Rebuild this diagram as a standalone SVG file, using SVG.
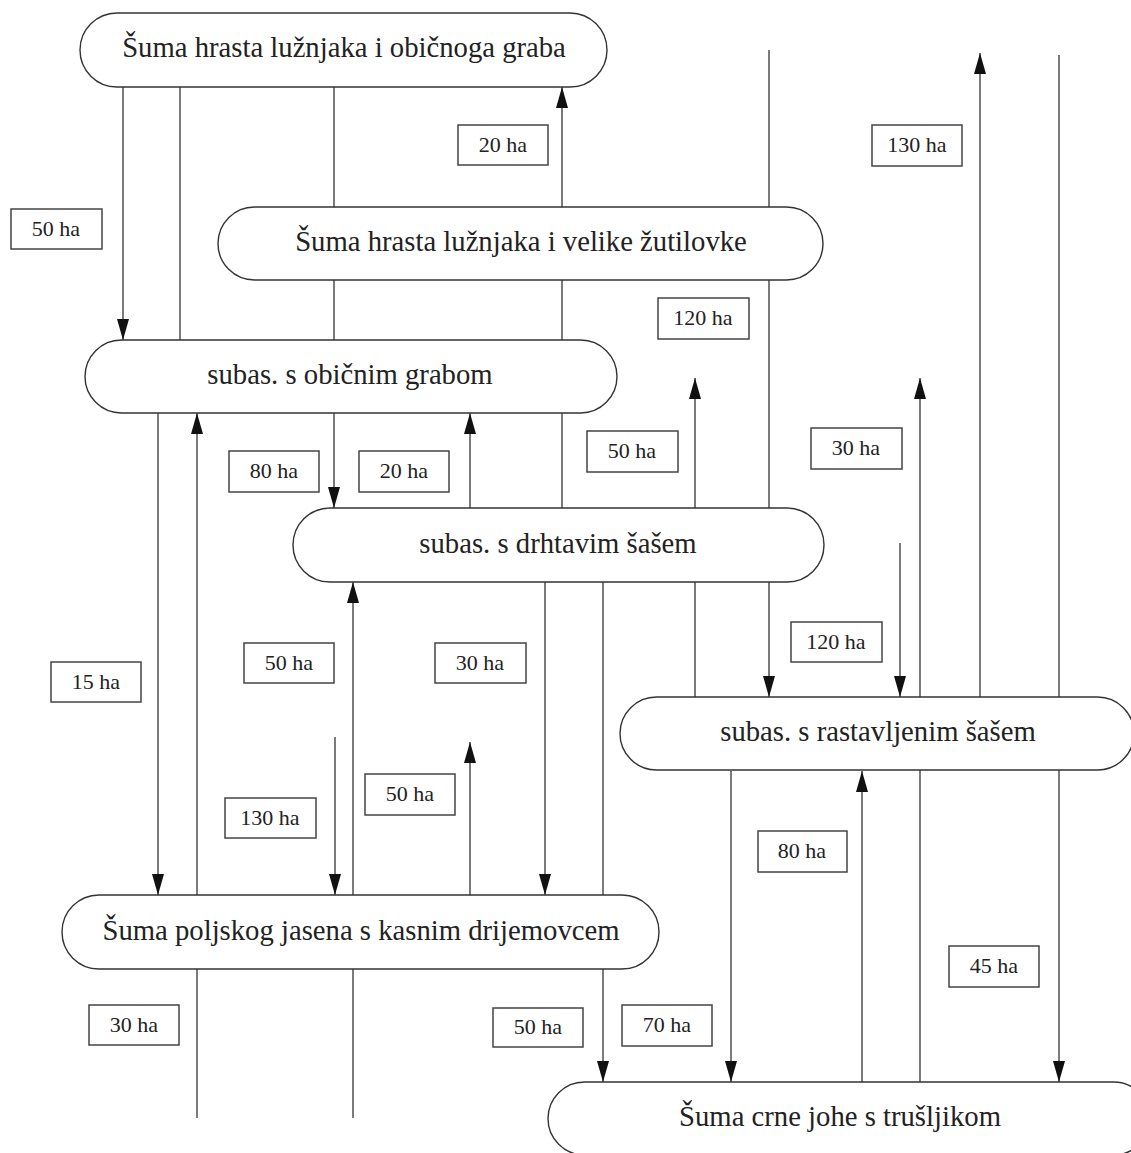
<svg xmlns="http://www.w3.org/2000/svg" width="1131" height="1153" viewBox="0 0 1131 1153">
<defs>
<marker id="ah" viewBox="0 -6.5 21 13" markerWidth="21" markerHeight="13" refX="21" refY="0" markerUnits="userSpaceOnUse" orient="auto">
<path d="M0,-6 L21,0 L0,6 z" fill="#111"/>
</marker>
<style>
.n rect{fill:#fff;stroke:#333;stroke-width:1.4}
.n text{font-family:"Liberation Serif","Times New Roman",serif;font-size:28.7px;fill:#222;text-anchor:middle}
.c line{stroke:#333;stroke-width:1.3;fill:none}
.c line.a{marker-end:url(#ah)}
.l rect{fill:#fff;stroke:#444;stroke-width:1.5}
.l text{font-family:"Liberation Serif","Times New Roman",serif;font-size:22px;fill:#222;text-anchor:middle}
</style>
</defs>
<rect width="1131" height="1153" fill="#fff"/>
<g id="connectors" class="c">
<line class="a" x1="123" y1="87" x2="123" y2="340"/>
<line x1="180" y1="87" x2="180" y2="340"/>
<line class="a" x1="334" y1="87" x2="334" y2="508"/>
<line class="a" x1="562" y1="508" x2="562" y2="87"/>
<line class="a" x1="769" y1="50" x2="769" y2="697"/>
<line class="a" x1="980" y1="697" x2="980" y2="53"/>
<line class="a" x1="1059" y1="55" x2="1059" y2="1082"/>
<line class="a" x1="158" y1="413" x2="158" y2="895"/>
<line class="a" x1="197" y1="1118" x2="197" y2="413"/>
<line class="a" x1="470" y1="508" x2="470" y2="413"/>
<line class="a" x1="695" y1="697" x2="695" y2="378"/>
<line class="a" x1="920" y1="1082" x2="920" y2="378"/>
<line class="a" x1="900" y1="543" x2="900" y2="697"/>
<line class="a" x1="353" y1="1118" x2="353" y2="582"/>
<line class="a" x1="335" y1="737" x2="335" y2="895"/>
<line class="a" x1="470" y1="895" x2="470" y2="742"/>
<line class="a" x1="545" y1="582" x2="545" y2="895"/>
<line class="a" x1="603" y1="582" x2="603" y2="1082"/>
<line class="a" x1="731" y1="771" x2="731" y2="1082"/>
<line class="a" x1="862" y1="1082" x2="862" y2="771"/>
</g>
<g id="node-hrast-grab" class="n"><rect x="80" y="13" width="527" height="74" rx="37"/><text x="344" y="57">Šuma hrasta lužnjaka i običnoga graba</text></g>
<g id="node-hrast-zutilovka" class="n"><rect x="218" y="207" width="605" height="73" rx="36.5"/><text x="521" y="251">Šuma hrasta lužnjaka i velike žutilovke</text></g>
<g id="node-subas-grab" class="n"><rect x="85" y="340" width="532" height="73" rx="36.5"/><text x="350" y="384">subas. s običnim grabom</text></g>
<g id="node-subas-drhtavi" class="n"><rect x="293" y="508" width="531" height="74" rx="37"/><text x="558" y="553">subas. s drhtavim šašem</text></g>
<g id="node-subas-rastavljeni" class="n"><rect x="620" y="697" width="514" height="73" rx="36.5"/><text x="878" y="741">subas. s rastavljenim šašem</text></g>
<g id="node-jasen" class="n"><rect x="62" y="895" width="597" height="74" rx="37"/><text x="361" y="940">Šuma poljskog jasena s kasnim drijemovcem</text></g>
<g id="node-joha" class="n"><rect x="548" y="1082" width="602" height="73" rx="36.5"/><text x="840" y="1126">Šuma crne johe s trušljikom</text></g>
<g id="labels" class="l">
<g><rect x="458" y="125" width="90" height="40"/><text x="503" y="152">20 ha</text></g>
<g><rect x="872" y="125" width="90" height="41"/><text x="917" y="152">130 ha</text></g>
<g><rect x="11" y="209" width="91" height="40"/><text x="56" y="236">50 ha</text></g>
<g><rect x="658" y="298" width="91" height="41"/><text x="703" y="325">120 ha</text></g>
<g><rect x="229" y="451" width="90" height="41"/><text x="274" y="478">80 ha</text></g>
<g><rect x="359" y="451" width="90" height="41"/><text x="404" y="478">20 ha</text></g>
<g><rect x="587" y="431" width="91" height="41"/><text x="632" y="458">50 ha</text></g>
<g><rect x="811" y="428" width="91" height="41"/><text x="856" y="455">30 ha</text></g>
<g><rect x="791" y="622" width="91" height="40"/><text x="836" y="649">120 ha</text></g>
<g><rect x="51" y="662" width="90" height="40"/><text x="96" y="689">15 ha</text></g>
<g><rect x="244" y="643" width="90" height="40"/><text x="289" y="670">50 ha</text></g>
<g><rect x="435" y="643" width="91" height="40"/><text x="480" y="670">30 ha</text></g>
<g><rect x="365" y="774" width="90" height="41"/><text x="410" y="801">50 ha</text></g>
<g><rect x="225" y="798" width="91" height="40"/><text x="270" y="825">130 ha</text></g>
<g><rect x="758" y="831" width="89" height="41"/><text x="802" y="858">80 ha</text></g>
<g><rect x="949" y="946" width="90" height="41"/><text x="994" y="973">45 ha</text></g>
<g><rect x="89" y="1005" width="90" height="40"/><text x="134" y="1032">30 ha</text></g>
<g><rect x="493" y="1008" width="90" height="39"/><text x="538" y="1034">50 ha</text></g>
<g><rect x="622" y="1005" width="90" height="41"/><text x="667" y="1032">70 ha</text></g>
</g>
</svg>
